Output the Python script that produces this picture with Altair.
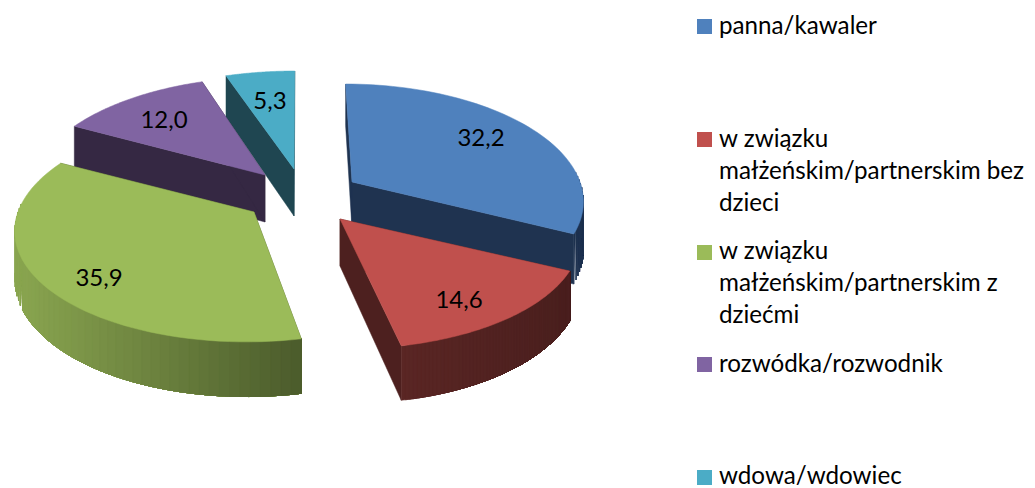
import math
import altair as alt

categories = ["panna/kawaler", "w związku małżeńskim/partnerskim bez dzieci",
              "w związku małżeńskim/partnerskim z dziećmi", "rozwódka/rozwodnik", "wdowa/wdowiec"]
values = [32.2, 14.6, 35.9, 12.0, 5.3]
value_labels = ["32,2", "14,6", "35,9", "12,0", "5,3"]
top_colors = ["#4f81bd", "#c0504d", "#9bbb59", "#8064a2", "#4bacc6"]
wall_start = ["#1f3350", "#5a2624", "#8aa650", "#352843", "#1f4651"]
wall_end = ["#1f3350", "#4a1f1e", "#4a5a2b", "#352843", "#1f4651"]
radial_colors = ["#1f3350", "#4d201f", "#4a5a2b", "#352843", "#1f4651"]

# Explosion: tip of every slice in the picture, and the look of the tilted pie
tips = [(352, 182), (340, 219), (254, 212), (265, 175), (294, 169)]
radius_x = [228, 237, 236, 232, 238]
radius_y = 111.7
persp = 0.14
depth = 47
center_x = 300
draw_order = [4, 3, 0, 2, 1]

label_x = [481, 459, 99, 164, 270]
label_y = [146, 308, 286, 128, 109]

legend_keys_y = [26.5, 139.5, 252.5, 364.5, 477.5]
legend_key_x = 704.5
legend_text_x = 719
legend_lines = [
    ("panna/kawaler", 34), ("w związku", 147), ("małżeńskim/partnerskim bez", 179), ("dzieci", 211),
    ("w związku", 259), ("małżeńskim/partnerskim z", 291), ("dziećmi", 323),
    ("rozwódka/rozwodnik", 372), ("wdowa/wdowiec", 484),
]


def project(i, theta, r=1.0, bottom=False):
    tip = tips[i]
    a, b = math.sin(theta) * r, math.cos(theta) * r
    s = 1 / (1 + persp * b)
    x = tip[0] + (tip[0] - center_x) * (s - 1) + radius_x[i] * a * s
    y = tip[1] - radius_y * b * s
    if bottom:
        y += depth * s
    return [round(x, 2), round(y, 2)]


def mix(c1, c2, t):
    p = [int(c1[i:i + 2], 16) for i in (1, 3, 5)]
    q = [int(c2[i:i + 2], 16) for i in (1, 3, 5)]
    return "#%02x%02x%02x" % tuple(round(u + (v - u) * t) for u, v in zip(p, q))


def feature(ring, color):
    ring = ring + [ring[0]]
    return {"type": "Feature", "geometry": {"type": "Polygon", "coordinates": [ring]},
            "properties": {"color": color}}


total = sum(values)
starts = [sum(values[:i]) / total * 2 * math.pi for i in range(len(values))]
ends = [sum(values[:i + 1]) / total * 2 * math.pi for i in range(len(values))]

features = []
for i in draw_order:
    t0, t1 = starts[i], ends[i]
    n = 60
    angles = [t0 + (t1 - t0) * k / n for k in range(n + 1)]
    # radial faces
    for t in (t0, t1):
        features.append(feature([project(i, t, 0), project(i, t), project(i, t, 1, True),
                                 project(i, t, 0, True)], radial_colors[i]))
    # outer wall, front-facing part only: one painted strip per gradient step,
    # each running on to the end of the wall so no seams show between strips
    front = [t for t in angles if math.cos(t) < 0.1]
    xs = [project(i, t)[0] for t in front] or [0]
    ordered = sorted(front, key=lambda t: project(i, t)[0])
    for k in range(len(ordered) - 1):
        u = ordered[k]
        rest = ordered[k:]
        frac = (project(i, u)[0] - min(xs)) / max(1, max(xs) - min(xs))
        ring = [project(i, t) for t in rest] + [project(i, t, 1, True) for t in reversed(rest)]
        features.append(feature(ring, mix(wall_start[i], wall_end[i], frac)))
    # top
    features.append(feature([project(i, 0, 0)] + [project(i, t) for t in angles], top_colors[i]))

proj = dict(type="identity", scale=1, translate=[-8, -8])

pie = alt.Chart(alt.Data(values=features)).mark_geoshape(strokeWidth=0.5).encode(
    color=alt.Color("properties.color:N", scale=None),
    stroke=alt.Stroke("properties.color:N", scale=None),
).project(**proj)

labels = alt.Chart(alt.Data(values=[{"lon": x, "lat": y, "t": t}
                                    for x, y, t in zip(label_x, label_y, value_labels)])).mark_text(
    font="Lato", fontSize=24, color="#000000", align="center", baseline="alphabetic"
).encode(longitude="lon:Q", latitude="lat:Q", text="t:N").project(**proj)

keys = alt.Chart(alt.Data(values=[{"lon": legend_key_x, "lat": y, "c": c}
                                  for y, c in zip(legend_keys_y, top_colors)])).mark_point(
    shape="square", filled=True, size=225, opacity=1
).encode(longitude="lon:Q", latitude="lat:Q", color=alt.Color("c:N", scale=None)).project(**proj)

legend_text = alt.Chart(alt.Data(values=[{"lon": legend_text_x, "lat": y, "t": t}
                                         for t, y in legend_lines])).mark_text(
    font="Lato", fontSize=24.2, color="#000000", align="left", baseline="alphabetic"
).encode(longitude="lon:Q", latitude="lat:Q", text="t:N").project(**proj)

chart = alt.layer(pie, labels, keys, legend_text).properties(
    width=1019, height=480, padding=0, autosize=alt.AutoSizeParams(type="none")
).configure_view(stroke=None)

chart.save("out.html", embed_options={"renderer": "svg", "actions": False})
